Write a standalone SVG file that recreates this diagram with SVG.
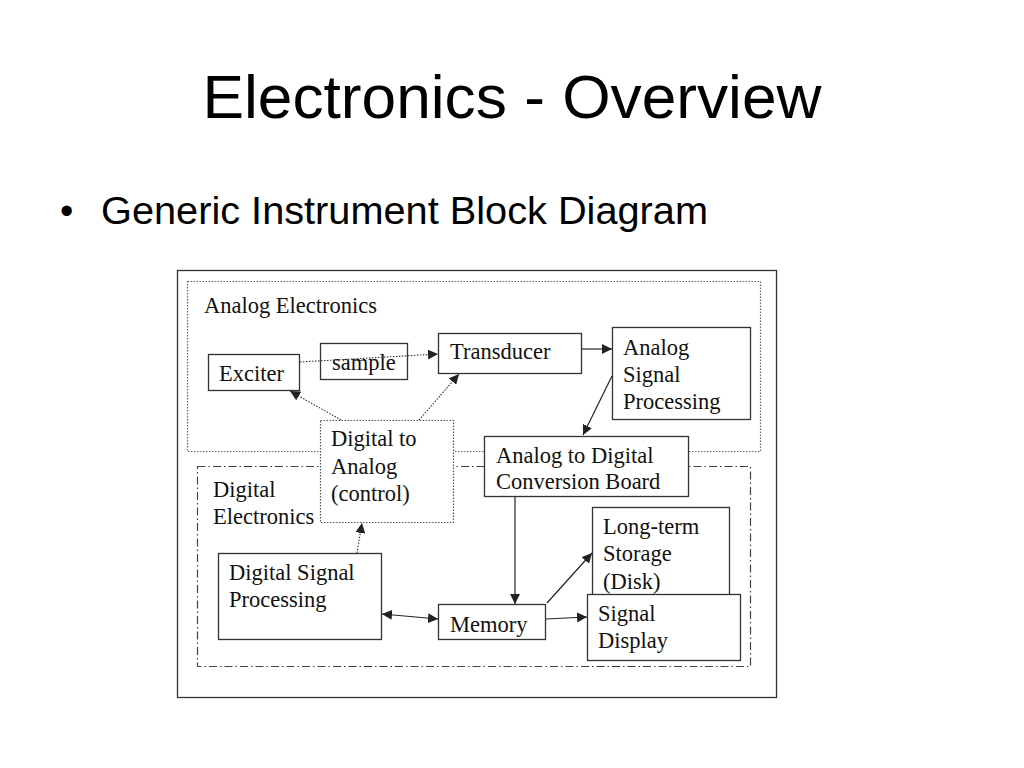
<svg xmlns="http://www.w3.org/2000/svg" width="1024" height="768" viewBox="0 0 1024 768">
<defs>
<marker id="ah" viewBox="0 0 10 10" refX="10" refY="5" markerWidth="10" markerHeight="10" markerUnits="userSpaceOnUse" orient="auto-start-reverse">
<path d="M0,0 L10,5 L0,10 z" fill="#222"/>
</marker>
<style>
.t{font-family:"Liberation Serif","Times New Roman",serif;font-size:22.5px;fill:#111}
.box{fill:#fff;stroke:#333;stroke-width:1.3}
.dbox{fill:#fff;stroke:#555;stroke-width:1.2;stroke-dasharray:1.5 1.5}
.c{fill:none;stroke:#222;stroke-width:1.2}
.cd{fill:none;stroke:#333;stroke-width:1.1;stroke-dasharray:1.5 1.5}
</style>
</defs>
<rect width="1024" height="768" fill="#fff"/>
<text x="512" y="118" text-anchor="middle" font-family="Liberation Sans, Arial, sans-serif" font-size="62" fill="#000" textLength="619" lengthAdjust="spacingAndGlyphs">Electronics - Overview</text>
<text x="60" y="224" font-family="Liberation Sans, Arial, sans-serif" font-size="38" fill="#000">•</text>
<text x="101" y="224" font-family="Liberation Sans, Arial, sans-serif" font-size="38" fill="#000" textLength="607" lengthAdjust="spacingAndGlyphs">Generic Instrument Block Diagram</text>

<g id="frame">
<rect x="177.5" y="270.5" width="599" height="427" fill="#fff" stroke="#333" stroke-width="1.3"/>
</g>
<g id="analog-electronics">
<rect x="187.5" y="281.5" width="573" height="170" fill="none" stroke="#666" stroke-width="1.2" stroke-dasharray="1.5 1.5"/>
<text class="t" x="204" y="313">Analog Electronics</text>
</g>
<g id="digital-electronics">
<rect x="197.5" y="466.5" width="553" height="200" fill="none" stroke="#444" stroke-width="1.2" stroke-dasharray="8 3 1.5 3"/>
<text class="t" x="213" y="497">Digital</text>
<text class="t" x="213" y="524">Electronics</text>
</g>

<g id="exciter">
<rect class="box" x="208.5" y="354.5" width="91" height="36"/>
<text class="t" x="219" y="381">Exciter</text>
</g>
<g id="sample">
<rect class="box" x="320.5" y="343.5" width="87" height="36"/>
<text class="t" x="332" y="370">sample</text>
</g>
<g id="transducer">
<rect class="box" x="438.5" y="333.5" width="143" height="40"/>
<text class="t" x="450" y="359">Transducer</text>
</g>
<g id="analog-signal-processing">
<rect class="box" x="612.5" y="327.5" width="138" height="92"/>
<text class="t" x="623" y="355">Analog</text>
<text class="t" x="623" y="382">Signal</text>
<text class="t" x="623" y="409">Processing</text>
</g>
<g id="adc">
<rect class="box" x="484.5" y="436.5" width="204" height="60"/>
<text class="t" x="496" y="463">Analog to Digital</text>
<text class="t" x="496" y="489">Conversion Board</text>
</g>
<g id="dac">
<rect class="dbox" x="320.5" y="420.5" width="133" height="102"/>
<text class="t" x="331" y="446">Digital to</text>
<text class="t" x="331" y="474">Analog</text>
<text class="t" x="331" y="501">(control)</text>
</g>
<g id="dsp">
<rect class="box" x="218.5" y="553.5" width="163" height="86"/>
<text class="t" x="229" y="580">Digital Signal</text>
<text class="t" x="229" y="607">Processing</text>
</g>
<g id="memory">
<rect class="box" x="438.5" y="604.5" width="107" height="35"/>
<text class="t" x="450" y="632">Memory</text>
</g>
<g id="long-term-storage">
<rect class="box" x="592.5" y="507.5" width="137" height="90"/>
<text class="t" x="603" y="534">Long-term</text>
<text class="t" x="603" y="561">Storage</text>
<text class="t" x="603" y="589">(Disk)</text>
</g>
<g id="signal-display">
<rect class="box" x="587.5" y="594.5" width="153" height="66"/>
<text class="t" x="598" y="621">Signal</text>
<text class="t" x="598" y="648">Display</text>
</g>

<g id="connectors">
<line class="cd" x1="300" y1="362" x2="438" y2="354" marker-end="url(#ah)"/>
<line class="c" x1="582" y1="349" x2="612" y2="349" marker-end="url(#ah)"/>
<line class="c" x1="612" y1="376" x2="583" y2="435" marker-end="url(#ah)"/>
<line class="cd" x1="341" y1="420" x2="290" y2="391" marker-end="url(#ah)"/>
<line class="cd" x1="419" y1="420" x2="459" y2="374" marker-end="url(#ah)"/>
<line class="cd" x1="357" y1="553" x2="362" y2="523" marker-end="url(#ah)"/>
<line class="c" x1="382" y1="614" x2="438" y2="619" marker-start="url(#ah)" marker-end="url(#ah)"/>
<line class="c" x1="515" y1="496" x2="515" y2="604" marker-end="url(#ah)"/>
<line class="c" x1="547" y1="603" x2="592" y2="553" marker-end="url(#ah)"/>
<line class="c" x1="546" y1="619" x2="587" y2="617" marker-end="url(#ah)"/>
</g>
</svg>
